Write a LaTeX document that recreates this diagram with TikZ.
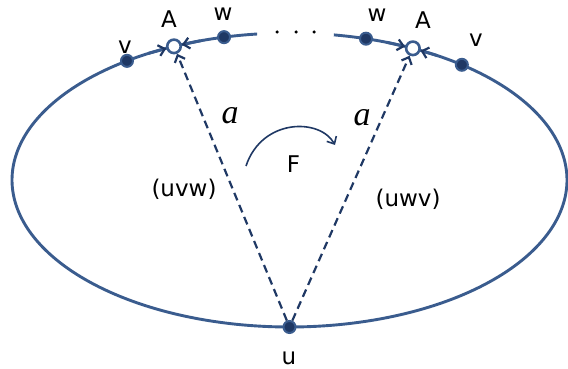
\documentclass[tikz,border=0pt]{standalone}
\usepackage{fontspec}
\newfontfamily\labfont{DejaVu Sans}
\newfontfamily\serfont{Liberation Serif}
\usetikzlibrary{arrows.meta}
\definecolor{ellblue}{RGB}{58,92,142}
\definecolor{navy}{RGB}{31,56,100}
\tikzset{
  ell/.style={draw=ellblue, line width=2.9pt},
  dotnode/.style={circle, fill=navy, draw=ellblue, line width=2pt, minimum size=12pt, inner sep=0pt},
  anode/.style={circle, fill=white, draw=ellblue, line width=2.6pt, minimum size=13.5pt, inner sep=0pt},
  barb/.style={-{Straight Barb[length=6pt,width=11pt,line width=2.2pt,color=navy]}},
  ellarrow/.style={ell, barb},
  dasharrow/.style={draw=navy, line width=2.2pt, dash pattern=on 8pt off 5pt, barb},
  curvearrow/.style={draw=navy, line width=1.6pt, -{Straight Barb[length=6pt,width=11pt,line width=1.6pt]}},
  lab/.style={anchor=base, inner sep=0pt, font=\labfont\fontsize{23}{27}\selectfont, text=black},
  alab/.style={anchor=base, inner sep=0pt, font=\serfont\itshape\fontsize{34}{38}\selectfont, text=black},
  smalldot/.style={circle, fill=black, minimum size=3.5pt, inner sep=0pt}
}
\begin{document}
\begin{tikzpicture}[x=1pt,y=-1pt]
\useasboundingbox (0,0) rectangle (568,369);
% ellipse with a gap at the top
\draw[ell] plot[domain=279.2:623.3, samples=300, smooth] ({289.5+277.5*cos(\x)},{180+147*sin(\x)});
% dots in the gap
\node[smalldot] (d1) at (277,32) {};
\node[smalldot] (d2) at (296,32) {};
\node[smalldot] (d3) at (314,32) {};
% points on the ellipse
\node[dotnode] (vL) at ({289.5+277.5*cos(234.15)},{180+147*sin(234.15)}) {};
\node[dotnode] (wL) at ({289.5+277.5*cos(256.35)},{180+147*sin(256.35)}) {};
\node[dotnode] (wR) at ({289.5+277.5*cos(286.0)},{180+147*sin(286.0)}) {};
\node[dotnode] (vR) at ({289.5+277.5*cos(308.4)},{180+147*sin(308.4)}) {};
\node[dotnode] (u) at (289.5,327) {};
\node[anode] (AL) at ({289.5+277.5*cos(245.4)},{180+147*sin(245.4)}) {};
\node[anode] (AR) at ({289.5+277.5*cos(296.4)},{180+147*sin(296.4)}) {};
% arrow starts along the ellipse
\coordinate (sL1) at ({289.5+277.5*cos(239.5)},{180+147*sin(239.5)});
\coordinate (sL2) at ({289.5+277.5*cos(251.3)},{180+147*sin(251.3)});
\coordinate (sR1) at ({289.5+277.5*cos(290.5)},{180+147*sin(290.5)});
\coordinate (sR2) at ({289.5+277.5*cos(302.3)},{180+147*sin(302.3)});
\draw[ellarrow] (sL1) -- (AL);
\draw[ellarrow] (sL2) -- (AL);
\draw[ellarrow] (sR1) -- (AR);
\draw[ellarrow] (sR2) -- (AR);
% dashed arrows
\draw[dasharrow] (u) -- (AL);
\draw[dasharrow] (u) -- (AR);
% curved arrow
\coordinate (c1) at (246,166);
\coordinate (c2) at (335,145);
\draw[curvearrow] (c1) .. controls (262,118) and (320,118) .. (c2);
% labels
\node[lab] (tAL) at (169,28) {A};
\node[lab] (twL) at (223,21) {w};
\node[lab] (tvL) at (125,54) {v};
\node[lab] (twR) at (377,22) {w};
\node[lab] (tAR) at (423,29) {A};
\node[lab] (tvR) at (476,47) {v};
\node[lab] (tF) at (293.5,172) {F};
\node[lab] (tuvw) at (184,196) {(uvw)};
\node[lab] (tuwv) at (408,206) {(uwv)};
\node[lab] (tu) at (289,364) {u};
\node[alab] (ta1) at (230,123) {a};
\node[alab] (ta2) at (362,125) {a};
\end{tikzpicture}
\end{document}
